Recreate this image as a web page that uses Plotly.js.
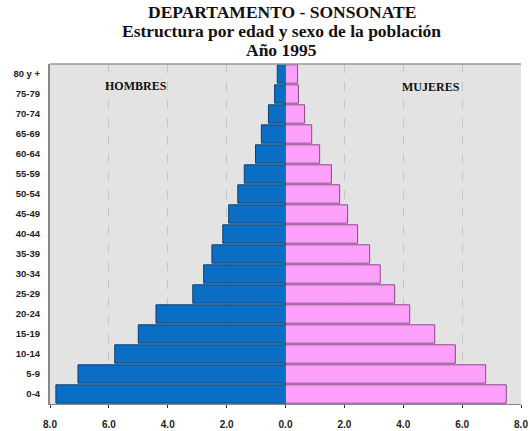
<!DOCTYPE html>
<html>
<head>
<meta charset="utf-8">
<script src="https://cdn.plot.ly/plotly-3.0.1.min.js"></script>
<style>html,body{margin:0;padding:0;background:#fff;}#chart{width:530px;height:431px;}</style>
</head>
<body>
<div id="chart"></div>
<script>
const ageGroups = ["0-4","5-9","10-14","15-19","20-24","25-29","30-34","35-39","40-44","45-49","50-54","55-59","60-64","65-69","70-74","75-79","80 y +"];
const hombres = [7.8, 7.05, 5.8, 5.0, 4.4, 3.15, 2.78, 2.5, 2.13, 1.93, 1.62, 1.4, 1.02, 0.82, 0.58, 0.37, 0.28];
const mujeres = [7.5, 6.8, 5.77, 5.07, 4.22, 3.71, 3.22, 2.86, 2.45, 2.11, 1.84, 1.56, 1.16, 0.89, 0.65, 0.44, 0.41];
const tickValues = [-8, -6, -4, -2, 0, 2, 4, 6, 8];
const tickLabels = ["8.0", "6.0", "4.0", "2.0", "0.0", "2.0", "4.0", "6.0", "8.0"];
const titleLines = ["DEPARTAMENTO - SONSONATE", "Estructura por edad y sexo de la población", "Año 1995"];

const traces = [
  {
    type: 'bar', orientation: 'h', name: 'Hombres',
    y: ageGroups, x: hombres.map(v => -v),
    marker: {color: '#0a6fc4', line: {color: '#0b3f70', width: 1}},
    hoverinfo: 'skip'
  },
  {
    type: 'bar', orientation: 'h', name: 'Mujeres',
    y: ageGroups, x: mujeres,
    marker: {color: '#fca0fc', line: {color: '#8a4a86', width: 1}},
    hoverinfo: 'skip'
  }
];

const titleY = [1.153, 1.097, 1.041];
const titleAnn = titleLines.map((t, i) => ({
  text: '<b>' + t + '</b>', xref: 'paper', yref: 'paper', x: 0.492, y: titleY[i],
  xanchor: 'center', yanchor: 'middle', showarrow: false,
  font: {family: 'Liberation Serif, serif', size: 17.5, color: '#111'}
}));

const layout = {
  width: 530, height: 431,
  margin: {l: 50, r: 9, t: 64, b: 27},
  paper_bgcolor: '#ffffff',
  plot_bgcolor: '#e3e3e3',
  barmode: 'relative',
  bargap: 0.08,
  showlegend: false,
  xaxis: {
    range: [-8, 8],
    tickvals: tickValues, ticktext: tickLabels,
    tickfont: {family: 'Liberation Sans, Arial, sans-serif', size: 10, color: '#222', weight: 'bold'},
    ticks: 'outside', ticklen: 3, tickcolor: '#333',
    ticklabelstandoff: 8,
    showgrid: true, gridcolor: '#c4c4c4', griddash: 'dash', gridwidth: 1,
    zeroline: true, zerolinecolor: '#000', zerolinewidth: 1.5,
    showline: true, linecolor: '#888', linewidth: 1,
    fixedrange: true
  },
  yaxis: {
    type: 'category',
    tickfont: {family: 'Liberation Sans, Arial, sans-serif', size: 9.5, color: '#222', weight: 'bold'},
    ticks: '', showgrid: false,
    showline: true, linecolor: '#888', linewidth: 2, mirror: false,
    ticklabelstandoff: 6,
    fixedrange: true
  },
  shapes: [
    {type: 'line', xref: 'paper', yref: 'paper', x0: 0, x1: 1, y0: 1, y1: 1, line: {color: '#999', width: 1.5}}
  ],
  annotations: titleAnn.concat([
    {text: '<b>HOMBRES</b>', x: -5.08, y: 15.4, xref: 'x', yref: 'y', showarrow: false,
     font: {family: 'Liberation Serif, serif', size: 12, color: '#111'}},
    {text: '<b>MUJERES</b>', x: 4.95, y: 15.35, xref: 'x', yref: 'y', showarrow: false,
     font: {family: 'Liberation Serif, serif', size: 12, color: '#111'}}
  ])
};

Plotly.newPlot('chart', traces, layout, {displayModeBar: false, staticPlot: true});
</script>
</body>
</html>
